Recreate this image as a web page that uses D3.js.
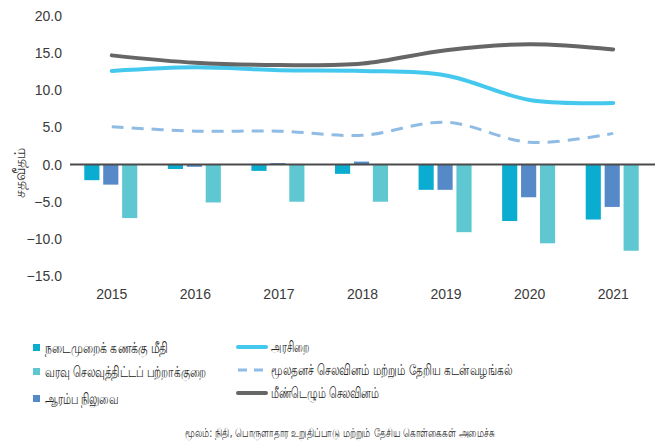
<!DOCTYPE html>
<html>
<head>
<meta charset="utf-8">
<script src="https://cdn.jsdelivr.net/npm/d3@7"></script>
<style>
  body { margin: 0; background: #fff; }
  svg { font-family: "DejaVu Sans", "Noto Sans", sans-serif; }
  .tick text { fill: #3a3a3a; }
</style>
</head>
<body>
<div id="chart"></div>
<script>
// 年份
const years = ["2015", "2016", "2017", "2018", "2019", "2020", "2021"];

// 柱状数据
const currentAccount = [-2.1, -0.6, -0.85, -1.25, -3.4, -7.6, -7.4];
const primaryBalance = [-2.7, -0.3, 0.2, 0.4, -3.4, -4.4, -5.7];
const budgetDeficit = [-7.2, -5.1, -5.0, -5.0, -9.1, -10.6, -11.6];

// 折线数据
const revenue = [12.6, 13.1, 12.7, 12.6, 12.0, 8.7, 8.3];
const capitalExp = [5.1, 4.5, 4.5, 3.95, 5.7, 3.0, 4.2];
const recurrentExp = [14.7, 13.7, 13.4, 13.6, 15.4, 16.2, 15.5];

const yTicks = [20, 15, 10, 5, 0, -5, -10, -15];

const barSeries = [
  { name: "நடைமுறைக் கணக்கு மீதி", values: currentAccount, color: "#0AADD0" },
  { name: "ஆரம்ப நிலுவை", values: primaryBalance, color: "#5589C8" },
  { name: "வரவு செலவுத்திட்டப் பற்றாக்குறை", values: budgetDeficit, color: "#5EC7D1" }
];
const lineSeries = [
  { name: "அரசிறை", values: revenue, color: "#44C8EE", width: 4, dash: null },
  { name: "மூலதனச் செலவினம் மற்றும் தேறிய கடன்வழங்கல்", values: capitalExp, color: "#8FBCE4", width: 3, dash: "12,8" },
  { name: "மீண்டெழும் செலவினம்", values: recurrentExp, color: "#666666", width: 4, dash: null }
];

const W = 656, H = 445;
const svg = d3.select("#chart").append("svg")
  .attr("width", W).attr("height", H);

// 比例尺
const x = d3.scaleBand().domain(years).range([70, 655]);
const x1 = d3.scaleBand().domain(barSeries.map(d => d.name))
  .range([0, 53]).paddingInner(0.2);
const y = d3.scaleLinear().domain([-15, 20]).range([276, 16]);

// Y轴
svg.append("g")
  .attr("transform", "translate(70,0)")
  .call(d3.axisLeft(y).tickValues(yTicks).tickFormat(d3.format(".1f")).tickSize(0).tickPadding(8))
  .call(g => g.select(".domain").remove())
  .selectAll("text").attr("font-size", 14);

// X轴标签
svg.append("g")
  .attr("transform", "translate(0,276)")
  .call(d3.axisBottom(x).tickSize(0).tickPadding(13))
  .call(g => g.select(".domain").remove())
  .selectAll("text").attr("font-size", 14);

// Y轴标题
svg.append("text")
  .attr("transform", "translate(25,173) rotate(-90)")
  .attr("text-anchor", "middle")
  .attr("font-size", 16)
  .attr("textLength", 50).attr("lengthAdjust", "spacingAndGlyphs")
  .attr("fill", "#333")
  .text("சதவீதம்");

// 柱子
const groupOffset = (x.bandwidth() - 53) / 2 - 1;
barSeries.forEach(s => {
  svg.append("g").selectAll("rect")
    .data(s.values)
    .enter().append("rect")
    .attr("x", (d, i) => x(years[i]) + groupOffset + x1(s.name))
    .attr("y", d => y(Math.max(0, d)))
    .attr("width", x1.bandwidth())
    .attr("height", d => Math.abs(y(d) - y(0)))
    .attr("fill", s.color);
});

// 零线
svg.append("line")
  .attr("x1", 70).attr("x2", 655)
  .attr("y1", y(0)).attr("y2", y(0))
  .attr("stroke", "#4a4a4a").attr("stroke-width", 2);

// 折线
const line = d3.line()
  .x((d, i) => x(years[i]) + x.bandwidth() / 2)
  .y(d => y(d))
  .curve(d3.curveCardinal);

lineSeries.forEach(s => {
  svg.append("path")
    .datum(s.values)
    .attr("d", line)
    .attr("fill", "none")
    .attr("stroke", s.color)
    .attr("stroke-width", s.width)
    .attr("stroke-linecap", s.dash ? "butt" : "round")
    .attr("stroke-dasharray", s.dash);
});

// 图例 - 柱
const legendBars = [barSeries[0], barSeries[2], barSeries[1]];
const barTextW = [123, 161, 73];
const lb = svg.append("g").attr("font-size", 14.5).attr("fill", "#222");
legendBars.forEach((s, i) => {
  const yy = [348, 372, 399][i];
  lb.append("rect").attr("x", 33).attr("y", yy - 4).attr("width", 7).attr("height", 7).attr("fill", s.color);
  lb.append("text").attr("x", 45).attr("y", yy + 5)
    .attr("textLength", barTextW[i]).attr("lengthAdjust", "spacingAndGlyphs")
    .text(s.name);
});

// 图例 - 线
const lineTextW = [38, 241, 108];
lineSeries.forEach((s, i) => {
  const yy = [347, 370, 393][i];
  lb.append("line")
    .attr("x1", 238).attr("x2", 266).attr("y1", yy).attr("y2", yy)
    .attr("stroke", s.color).attr("stroke-width", s.width)
    .attr("stroke-linecap", s.dash ? "butt" : "round")
    .attr("stroke-dasharray", s.dash ? "9,7" : null);
  lb.append("text").attr("x", 271).attr("y", yy + 5)
    .attr("textLength", lineTextW[i]).attr("lengthAdjust", "spacingAndGlyphs")
    .text(s.name);
});

// 来源
svg.append("text")
  .attr("x", 185).attr("y", 437)
  .attr("font-size", 12).attr("fill", "#333")
  .attr("textLength", 310).attr("lengthAdjust", "spacingAndGlyphs")
  .text("மூலம்: நிதி, பொருளாதார உறுதிப்பாடு மற்றும் தேசிய கொள்கைகள் அமைச்சு");
</script>
</body>
</html>
